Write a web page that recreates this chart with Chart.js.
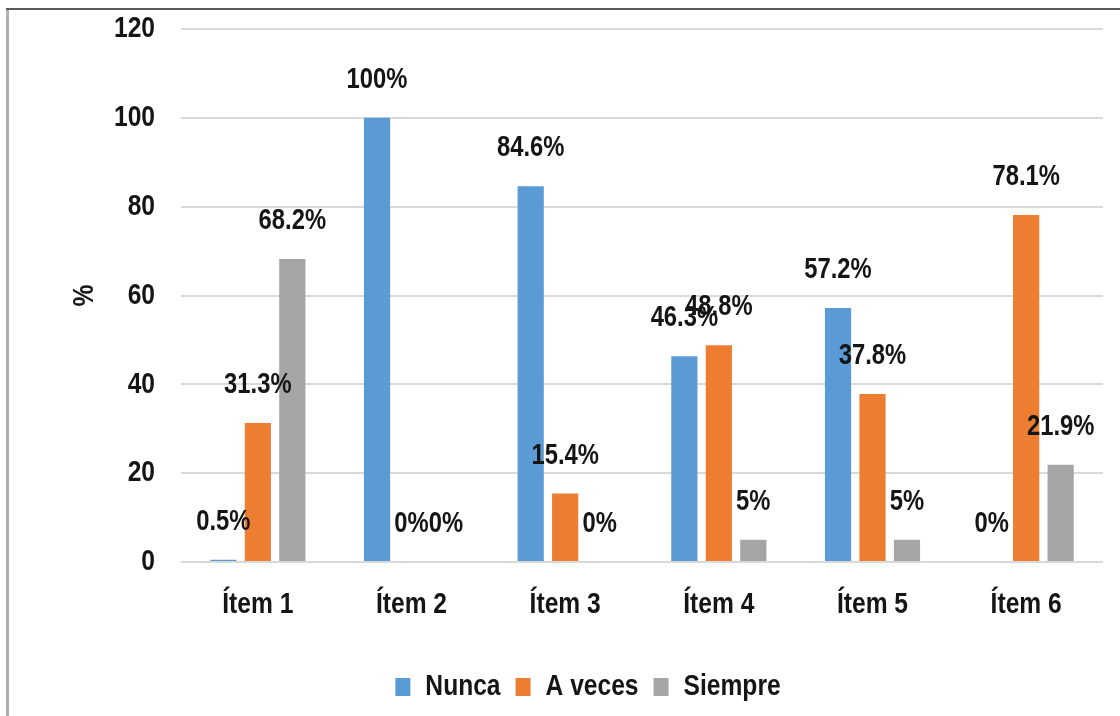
<!DOCTYPE html>
<html>
<head>
<meta charset="utf-8">
<script src="https://cdn.jsdelivr.net/npm/chart.js@4/dist/chart.umd.min.js"></script>
<style>
  html, body { margin: 0; padding: 0; background: #fff; }
  #wrap { width: 1120px; height: 716px; }
</style>
</head>
<body>
<div id="wrap"><canvas id="chart" width="1120" height="716"></canvas></div>
<script>
// Categories and series (percent of responses)
const categories = ['Ítem 1', 'Ítem 2', 'Ítem 3', 'Ítem 4', 'Ítem 5', 'Ítem 6'];
const seriesNames = ['Nunca', 'A veces', 'Siempre'];
const nunca   = [0.5, 100, 84.6, 46.3, 57.2, 0];
const aVeces  = [31.3, 0, 15.4, 48.8, 37.8, 78.1];
const siempre = [68.2, 0, 0, 5, 5, 21.9];
const yTicks  = [0, 20, 40, 60, 80, 100, 120];

const FONT = '"Liberation Sans", Arial, sans-serif';
const TEXT = '#151515';

// Narrow lettering: every text run is drawn (and measured) condensed horizontally
const canvas = document.getElementById('chart');
const ctx2d = canvas.getContext('2d');
const NARROW = 0.82;
const rawFillText = ctx2d.fillText.bind(ctx2d);
ctx2d.fillText = function (text, x, y, maxWidth) {
  this.save();
  this.translate(x, y);
  this.scale(NARROW, 1);
  if (maxWidth === undefined) rawFillText(text, 0, 0);
  else rawFillText(text, 0, 0, maxWidth / NARROW);
  this.restore();
};
const rawMeasureText = ctx2d.measureText.bind(ctx2d);
ctx2d.measureText = function (text) {
  const m = rawMeasureText(text);
  return {
    width: m.width * NARROW,
    actualBoundingBoxLeft: m.actualBoundingBoxLeft * NARROW,
    actualBoundingBoxRight: m.actualBoundingBoxRight * NARROW,
    actualBoundingBoxAscent: m.actualBoundingBoxAscent,
    actualBoundingBoxDescent: m.actualBoundingBoxDescent,
    fontBoundingBoxAscent: m.fontBoundingBoxAscent,
    fontBoundingBoxDescent: m.fontBoundingBoxDescent
  };
};

// Frame lines along the top and left edges of the canvas
const framePlugin = {
  id: 'frame',
  beforeDraw(chart) {
    const ctx = chart.ctx;
    ctx.save();
    ctx.fillStyle = '#ffffff';
    ctx.fillRect(0, 0, chart.width, chart.height);
    ctx.strokeStyle = '#b0b0b0';
    ctx.lineWidth = 3;
    ctx.beginPath();
    ctx.moveTo(7.5, 9);
    ctx.lineTo(7.5, chart.height);
    ctx.stroke();
    ctx.strokeStyle = '#5a5a5a';
    ctx.lineWidth = 2;
    ctx.beginPath();
    ctx.moveTo(6, 9);
    ctx.lineTo(chart.width, 9);
    ctx.stroke();
    ctx.restore();
  }
};

// Value labels floating above each bar
const valueLabels = {
  id: 'valueLabels',
  afterDatasetsDraw(chart) {
    const ctx = chart.ctx;
    ctx.save();
    ctx.font = 'bold 29px ' + FONT;
    ctx.fillStyle = TEXT;
    ctx.textAlign = 'center';
    ctx.textBaseline = 'middle';
    chart.data.datasets.forEach((ds, i) => {
      const meta = chart.getDatasetMeta(i);
      meta.data.forEach((bar, j) => {
        ctx.fillText(ds.data[j] + '%', bar.x, bar.y - 38);
      });
    });
    ctx.restore();
  }
};

new Chart(canvas, {
  type: 'bar',
  data: {
    labels: categories,
    datasets: [
      { label: seriesNames[0], data: nunca,   backgroundColor: '#5B9BD5' },
      { label: seriesNames[1], data: aVeces,  backgroundColor: '#ED7D31' },
      { label: seriesNames[2], data: siempre, backgroundColor: '#A5A5A5' }
    ]
  },
  options: {
    responsive: false,
    animation: false,
    devicePixelRatio: 1,
    datasets: { bar: { categoryPercentage: 0.673, barPercentage: 0.76 } },
    layout: { padding: { left: 73, right: 17, top: 29, bottom: 4 } },
    plugins: {
      tooltip: { enabled: false },
      legend: {
        position: 'bottom',
        labels: {
          boxWidth: 15,
          boxHeight: 18,
          padding: 15,
          color: TEXT,
          font: { family: FONT, size: 30, weight: 'bold' }
        }
      }
    },
    scales: {
      x: {
        grid: { display: false },
        border: { display: false },
        ticks: {
          color: TEXT,
          padding: 17,
          font: { family: FONT, size: 30, weight: 'bold' }
        },
        afterFit(scale) { scale.height = 95; }
      },
      y: {
        min: 0,
        max: 120,
        afterBuildTicks(scale) { scale.ticks = yTicks.map(v => ({ value: v })); },
        grid: { color: '#d9d9d9', lineWidth: 2, drawTicks: false },
        border: { display: false },
        ticks: {
          color: TEXT,
          padding: 26,
          font: { family: FONT, size: 30, weight: 'bold' }
        },
        title: {
          display: true,
          text: '%',
          color: TEXT,
          padding: 0,
          font: { family: FONT, size: 30, weight: 'bold', lineHeight: 0.8 }
        },
        afterFit(scale) {
          scale.width = 108;
          scale.paddingTop = 0;
          scale.paddingBottom = 0;
        }
      }
    }
  },
  plugins: [framePlugin, valueLabels]
});
</script>
</body>
</html>
